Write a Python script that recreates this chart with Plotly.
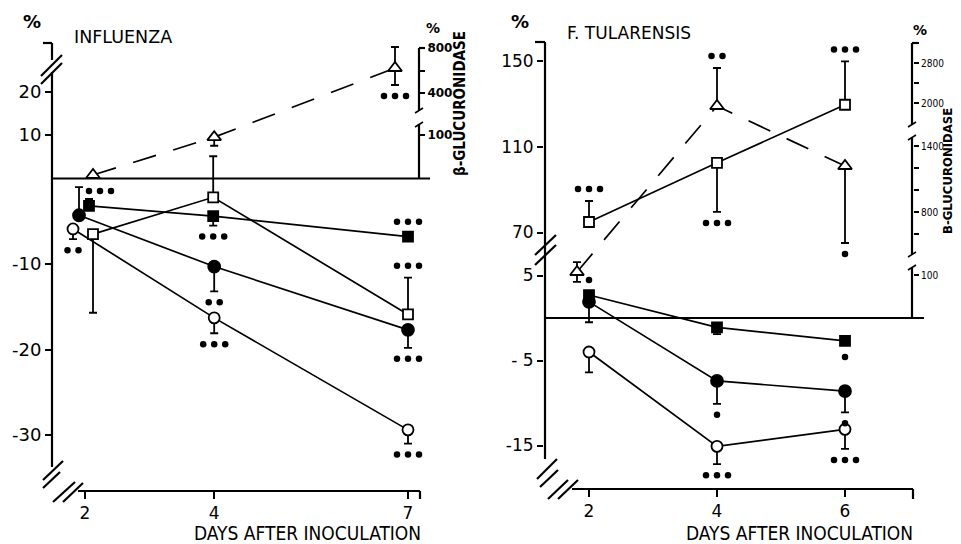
import plotly.graph_objects as go

W, H = 961, 544
FONT = "DejaVu Sans, sans-serif"
NARROW = "DejaVu Sans Condensed, DejaVu Sans, sans-serif"

# ---------------- data ----------------
FLU_DAYS = [2, 4, 7]
FLU_XTICKS = ["2", "4", "7"]
TUL_DAYS = [2, 4, 6]
TUL_XTICKS = ["2", "4", "6"]

# INFLUENZA : % change (left scale)
FLU_FC = [-4.3, -10.3, -17.7]      # filled circle
FLU_FC_UP = [3.3, 0, 0]
FLU_FC_DN = [0, 2.9, 2.1]
FLU_FS = [-3.2, -4.4, -6.8]        # filled square
FLU_FS_UP = [0.8, 0, 0]
FLU_FS_DN = [0, 1.1, 0]
FLU_OS = [-6.5, -2.2, -15.9]       # open square
FLU_OS_UP = [0, 4.8, 4.3]
FLU_OS_DN = [9.2, 0, 0]
FLU_OC = [-5.9, -16.3, -29.4]      # open circle
FLU_OC_UP = [0, 0, 0]
FLU_OC_DN = [1.2, 1.8, 1.6]
# INFLUENZA : beta-glucuronidase % (right, broken scale)
FLU_BG = [7, 95, 622]
FLU_BG_UP = [0, 0, 187]
FLU_BG_DN = [0, 20, 151]

# F. TULARENSIS : % change (lower left scale)
TUL_FS = [2.7, -1.1, -2.7]         # filled square
TUL_FS_UP = [0, 0, 0]
TUL_FS_DN = [0, 0.8, 0]
TUL_FC = [1.9, -7.4, -8.6]         # filled circle
TUL_FC_UP = [0, 0, 0]
TUL_FC_DN = [2.4, 2.7, 2.5]
TUL_OC = [-4.0, -15.1, -13.1]      # open circle
TUL_OC_UP = [0, 0, 0]
TUL_OC_DN = [2.4, 2.1, 2.3]
# F. TULARENSIS : % (upper left scale)
TUL_OS = [74.9, 102.5, 129.6]      # open square
TUL_OS_UP = [9.8, 0, 20.2]
TUL_OS_DN = [0, 22.9, 0]
# F. TULARENSIS : beta-glucuronidase % (right, broken scale)
TUL_BG = [107, 1940, 1218]
TUL_BG_UP = [23, 760, 0]
TUL_BG_DN = [23, 0, 700]

# axis ticks
FLU_LOW_TICKS = [-10, -20, -30]
FLU_LOW_TEXT = ["-10", "-20", "-30"]
FLU_UP_TICKS = [10, 20]
FLU_BG_LOW_TICKS = [100]
FLU_BG_HIGH_TICKS = [400, 600, 800]
FLU_BG_HIGH_TEXT = ["400", "", "800"]
TUL_LOW_TICKS = [5, -5, -15]
TUL_LOW_TEXT = ["5", "- 5", "-15"]
TUL_UP_TICKS = [70, 110, 150]
TUL_BG_LOW_TICKS = [100]
TUL_BG_MID_TICKS = [600, 800, 1000, 1200, 1400]
TUL_BG_MID_TEXT = ["", "800", "", "", "1400"]
TUL_BG_TOP_TICKS = [2000, 2400, 2800, 3200]
TUL_BG_TOP_TEXT = ["2000", "", "2800", ""]

# significance marks: (panel, series, point index, number of dots, side)
STARS = [
    ("flu", "bg", 0, 3, "below"), ("flu", "bg", 2, 3, "below"),
    ("flu", "oc", 0, 2, "below"), ("flu", "fs", 1, 3, "below"),
    ("flu", "fs", 2, 3, "above"), ("flu", "os", 2, 3, "above"),
    ("flu", "fc", 1, 2, "below"), ("flu", "oc", 1, 3, "below"),
    ("flu", "fc", 2, 3, "below"), ("flu", "oc", 2, 3, "below"),
    ("tul", "os", 0, 3, "above"), ("tul", "bg", 1, 2, "above"),
    ("tul", "os", 1, 3, "below"), ("tul", "os", 2, 3, "above"),
    ("tul", "bg", 2, 1, "below"), ("tul", "fs", 0, 1, "above"),
    ("tul", "fc", 1, 1, "below"), ("tul", "fs", 2, 1, "below"),
    ("tul", "fc", 2, 1, "below"), ("tul", "oc", 1, 3, "below"),
    ("tul", "oc", 2, 3, "below"),
]

# ---------------- layout calibration (pixels) ----------------
def cal(v1, p1, v2, p2, a_px, b_px):
    k = (v2 - v1) / (p2 - p1)
    return [v1 + (a_px - p1) * k, v1 + (b_px - p1) * k]

L_TOP, L_BOT, L_LEFT, L_RIGHT = 42, 491, 52, 419
R_TOP, R_BOT, R_LEFT, R_RIGHT = 42, 489, 544, 913

RNG = {
    "x": cal(2, 85, 7, 408, L_LEFT, L_RIGHT),
    "y": cal(0, 178.5, -30, 435, L_BOT, L_TOP),
    "y2": cal(0, 178, 20, 92, L_BOT, L_TOP),
    "y3": cal(0, 178, 100, 135, L_BOT, L_TOP),
    "y4": cal(400, 93, 800, 48, L_BOT, L_TOP),
    "x2": cal(2, 589, 6, 845, R_LEFT, R_RIGHT),
    "y5": cal(0, 318, -15, 445.5, R_BOT, R_TOP),
    "y6": cal(70, 232.5, 150, 61, R_BOT, R_TOP),
    "y7": cal(0, 318, 100, 275, R_BOT, R_TOP),
    "y8": cal(800, 212, 1400, 146, R_BOT, R_TOP),
    "y9": cal(2000, 103, 2800, 63, R_BOT, R_TOP),
}
PPD_L = (L_RIGHT - L_LEFT) / (RNG["x"][1] - RNG["x"][0])
PPD_R = (R_RIGHT - R_LEFT) / (RNG["x2"][1] - RNG["x2"][0])


def units_per_px(axis):
    a, b = RNG[axis]
    h = (L_BOT - L_TOP) if axis in ("y", "y2", "y3", "y4") else (R_BOT - R_TOP)
    return (b - a) / h


def to_axis(v, src, dst):
    a, b = RNG[src]
    c, d = RNG[dst]
    return c + (v - a) * (d - c) / (b - a)


fig = go.Figure()
LW = 1.7
ann = []
POS = {}


def marker(symbol, filled, size):
    return dict(symbol=symbol, size=size, color="black" if filled else "white",
                line=dict(color="black", width=1.8))


def add_series(panel, key, xa, ya, days, ppd, nudge, vals, up, dn, symbol, filled, size):
    x = [d + n / ppd for d, n in zip(days, nudge)]
    fig.add_trace(go.Scatter(
        x=x, y=vals, xaxis=xa, yaxis=ya, mode="lines+markers",
        line=dict(color="black", width=LW), marker=marker(symbol, filled, size),
        error_y=dict(type="data", symmetric=False, array=up, arrayminus=dn,
                     color="black", thickness=1.8, width=4),
        showlegend=False, hoverinfo="skip", cliponaxis=False))
    POS[(panel, key)] = (x, vals, up, dn, [ya] * len(vals))


def add_broken(panel, key, xa, base, days, ppd, nudge, vals, up, dn, seg_axis):
    x = [d + n / ppd for d, n in zip(days, nudge)]
    axes = [seg_axis(v) for v in vals]
    fig.add_trace(go.Scatter(
        x=x, y=[to_axis(v, a, base) for v, a in zip(vals, axes)], xaxis=xa, yaxis=base,
        mode="lines", line=dict(color="black", width=LW, dash="24px,18px"),
        showlegend=False, hoverinfo="skip", cliponaxis=False))
    for a in dict.fromkeys(axes):
        idx = [i for i, aa in enumerate(axes) if aa == a]
        fig.add_trace(go.Scatter(
            x=[x[i] for i in idx], y=[vals[i] for i in idx], xaxis=xa, yaxis=a,
            mode="markers", marker=marker("triangle-up", False, 12),
            error_y=dict(type="data", symmetric=False, array=[up[i] for i in idx],
                         arrayminus=[dn[i] for i in idx], color="black", thickness=1.8, width=4),
            showlegend=False, hoverinfo="skip", cliponaxis=False))
    POS[(panel, key)] = (x, vals, up, dn, axes)


# ---- INFLUENZA ----
add_broken("flu", "bg", "x", "y", FLU_DAYS, PPD_L, [8, 0, -13], FLU_BG, FLU_BG_UP, FLU_BG_DN,
           lambda v: "y3" if v < 200 else "y4")
add_series("flu", "oc", "x", "y", FLU_DAYS, PPD_L, [-12, 0, 0], FLU_OC, FLU_OC_UP, FLU_OC_DN, "circle", False, 11)
add_series("flu", "os", "x", "y", FLU_DAYS, PPD_L, [8, -1, 0], FLU_OS, FLU_OS_UP, FLU_OS_DN, "square", False, 10)
add_series("flu", "fc", "x", "y", FLU_DAYS, PPD_L, [-6, 0, 0], FLU_FC, FLU_FC_UP, FLU_FC_DN, "circle", True, 12)
add_series("flu", "fs", "x", "y", FLU_DAYS, PPD_L, [4, -1, 0], FLU_FS, FLU_FS_UP, FLU_FS_DN, "square", True, 10)
# invisible anchor trace so the upper-left % axis (no data of its own) is drawn
fig.add_trace(go.Scatter(x=[FLU_DAYS[0]], y=[FLU_UP_TICKS[0]], xaxis="x", yaxis="y2", mode="markers",
                         marker=dict(opacity=0), showlegend=False, hoverinfo="skip"))

# ---- F. TULARENSIS ----
add_broken("tul", "bg", "x2", "y5", TUL_DAYS, PPD_R, [-12, 0, 0], TUL_BG, TUL_BG_UP, TUL_BG_DN,
           lambda v: "y7" if v < 300 else ("y8" if v < 1700 else "y9"))
add_series("tul", "os", "x2", "y6", TUL_DAYS, PPD_R, [0, 0, 0], TUL_OS, TUL_OS_UP, TUL_OS_DN, "square", False, 10)
add_series("tul", "oc", "x2", "y5", TUL_DAYS, PPD_R, [0, 0, 0], TUL_OC, TUL_OC_UP, TUL_OC_DN, "circle", False, 11)
add_series("tul", "fc", "x2", "y5", TUL_DAYS, PPD_R, [0, 0, 0], TUL_FC, TUL_FC_UP, TUL_FC_DN, "circle", True, 12)
add_series("tul", "fs", "x2", "y5", TUL_DAYS, PPD_R, [0, 0, 0], TUL_FS, TUL_FS_UP, TUL_FS_DN, "square", True, 10)

# significance dots (drawn as marker rows)
DOT_GAP = 11
dots = {}
for panel, key, i, n, side in STARS:
    x, vals, up, dn, axes = POS[(panel, key)]
    ya = axes[i]
    xa = "x" if panel == "flu" else "x2"
    ppd = PPD_L if panel == "flu" else PPD_R
    if side == "above":
        y, shift = vals[i] + up[i], 12
    else:
        y, shift = vals[i] - dn[i], -11
    if up[i] == 0 and dn[i] == 0:
        shift = 15 if side == "above" else -16
    xs = 7 if (panel, key, i) == ("flu", "bg", 0) else 0
    yc = y + shift * units_per_px(ya)
    lst = dots.setdefault((xa, ya), ([], []))
    for k in range(n):
        lst[0].append(x[i] + (xs + (k - (n - 1) / 2) * DOT_GAP) / ppd)
        lst[1].append(yc)
for (xa, ya), (dx, dy) in dots.items():
    fig.add_trace(go.Scatter(x=dx, y=dy, xaxis=xa, yaxis=ya, mode="markers",
                             marker=dict(symbol="circle", size=6.5, color="black"),
                             showlegend=False, hoverinfo="skip", cliponaxis=False))

# ---------------- axes ----------------
TF = dict(family=FONT, size=18, color="black")
TF_R = dict(family=FONT, size=17, color="black")
SF = dict(family=FONT, size=12, color="black", weight="bold")
SF_R = dict(family=NARROW, size=10, color="black")
XF = dict(family=FONT, size=17, color="black")


def ax(rng, **kw):
    d = dict(range=rng, showgrid=False, zeroline=False, showline=False, ticks="outside",
             ticklen=6, tickwidth=2, tickcolor="black", tickfont=TF, fixedrange=True)
    d.update(kw)
    return d


fig.update_layout(
    width=W, height=H, margin=dict(l=0, r=0, t=0, b=0),
    paper_bgcolor="white", plot_bgcolor="rgba(0,0,0,0)",
    xaxis=ax(RNG["x"], domain=[L_LEFT / W, L_RIGHT / W], anchor="y", tickvals=FLU_DAYS,
             ticktext=FLU_XTICKS, ticklen=7, tickfont=XF),
    yaxis=ax(RNG["y"], domain=[1 - L_BOT / H, 1 - L_TOP / H], anchor="x",
             tickvals=FLU_LOW_TICKS, ticktext=FLU_LOW_TEXT),
    yaxis2=ax(RNG["y2"], overlaying="y", anchor="x", side="left", tickvals=FLU_UP_TICKS),
    yaxis3=ax(RNG["y3"], overlaying="y", anchor="x", side="right", tickvals=FLU_BG_LOW_TICKS,
              tickfont=SF, ticklen=5),
    yaxis4=ax(RNG["y4"], overlaying="y", anchor="x", side="right", tickvals=FLU_BG_HIGH_TICKS,
              ticktext=FLU_BG_HIGH_TEXT, tickfont=SF, ticklen=5),
    xaxis2=ax(RNG["x2"], domain=[R_LEFT / W, R_RIGHT / W], anchor="y5", tickvals=TUL_DAYS,
              ticktext=TUL_XTICKS, ticklen=7, tickfont=XF),
    yaxis5=ax(RNG["y5"], domain=[1 - R_BOT / H, 1 - R_TOP / H], anchor="x2",
              tickvals=TUL_LOW_TICKS, ticktext=TUL_LOW_TEXT, tickfont=TF_R),
    yaxis6=ax(RNG["y6"], overlaying="y5", anchor="x2", side="left", tickvals=TUL_UP_TICKS,
              tickfont=TF_R),
    yaxis7=ax(RNG["y7"], overlaying="y5", anchor="x2", side="right", tickvals=TUL_BG_LOW_TICKS,
              tickfont=SF_R, ticklen=5),
    yaxis8=ax(RNG["y8"], overlaying="y5", anchor="x2", side="right", tickvals=TUL_BG_MID_TICKS,
              ticktext=TUL_BG_MID_TEXT, tickfont=SF_R, ticklen=5),
    yaxis9=ax(RNG["y9"], overlaying="y5", anchor="x2", side="right", tickvals=TUL_BG_TOP_TICKS,
              ticktext=TUL_BG_TOP_TEXT, tickfont=SF_R, ticklen=5),
)

# ---------------- axis lines & breaks (decoration) ----------------
shapes = []


def seg(x0, y0, x1, y1, w=2.2):
    shapes.append(dict(type="line", xref="paper", yref="paper", x0=x0 / W, y0=1 - y0 / H,
                       x1=x1 / W, y1=1 - y1 / H, line=dict(color="black", width=w)))


# left panel
seg(43, 43, 52, 43); seg(52, 43, 52, 60); seg(52, 72, 52, 467)
seg(41, 76, 62, 55); seg(41, 84, 62, 63)
seg(43, 480, 63, 461); seg(43, 488, 60, 472)
seg(53, 502, 75, 482); seg(63, 502, 83, 483)
seg(78, 491, 420, 491); seg(420, 491, 420, 499)
seg(419, 48, 425, 48); seg(419, 48, 419, 110); seg(419, 124, 419, 179)
seg(415, 113, 423, 108, 1.5); seg(415, 127, 423, 122, 1.5)
# right panel
seg(535, 42, 545, 42); seg(545, 42, 545, 459)
seg(535, 255, 556, 235); seg(535, 265, 556, 245)
seg(537, 479, 557, 459); seg(540, 487, 558, 470)
seg(548, 499, 568, 480); seg(558, 499, 578, 480)
seg(572, 489, 913, 489); seg(913, 489, 913, 499)
seg(912, 43, 918, 43); seg(912, 43, 912, 124); seg(912, 137, 912, 254); seg(912, 268, 912, 319)
seg(908, 127, 916, 122, 1.5); seg(908, 140, 916, 135, 1.5)
seg(908, 257, 916, 252, 1.5); seg(908, 270, 916, 265, 1.5)

# zero lines
shapes.append(dict(type="line", xref="paper", yref="y", x0=52 / W, x1=430 / W, y0=0, y1=0,
                   line=dict(color="black", width=2)))
shapes.append(dict(type="line", xref="paper", yref="y5", x0=545 / W, x1=924 / W, y0=0, y1=0,
                   line=dict(color="black", width=2)))


def text(px, py, s, size, xanchor="center", angle=0, bold=False, family=FONT):
    ann.append(dict(x=px / W, y=1 - py / H, xref="paper", yref="paper", text=f"<b>{s}</b>" if bold else s,
                    showarrow=False, xanchor=xanchor, yanchor="middle", textangle=angle,
                    font=dict(family=family, size=size, color="black")))


text(32, 22, "%", 18, bold=True)
text(72, 37, "INFLUENZA", 17.5, xanchor="left")
text(433, 28, "%", 14, bold=True)
text(460, 104, "β-GLUCURONIDASE", 15, angle=-90, bold=True, family=NARROW)
text(423, 533, "DAYS AFTER INOCULATION", 19, xanchor="right", family=NARROW)
text(520, 22, "%", 18, bold=True)
text(565, 33, "F. TULARENSIS", 17, xanchor="left")
text(920, 30, "%", 14, bold=True)
text(947, 171, "B-GLUCURONIDASE", 13, angle=-90, bold=True, family=NARROW)
text(915, 533, "DAYS AFTER INOCULATION", 19, xanchor="right", family=NARROW)

fig.update_layout(shapes=shapes, annotations=ann)
fig.write_html("out.html", config={"displayModeBar": False},
               post_script="document.body.style.margin='0';document.body.style.padding='0';")
